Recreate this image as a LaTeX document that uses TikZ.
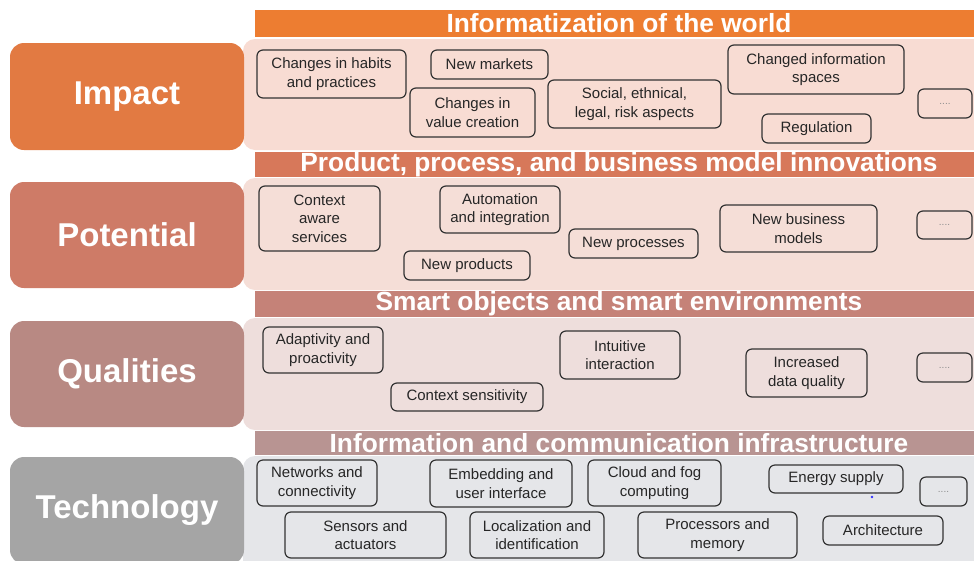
\documentclass[tikz,border=0pt]{standalone}
\usepackage{fontspec}
\setmainfont{Liberation Sans}
\definecolor{cImp}{RGB}{226,122,66}
\definecolor{cImpBar}{RGB}{237,125,49}
\definecolor{cImpBg}{RGB}{248,220,211}
\definecolor{cPot}{RGB}{206,123,103}
\definecolor{cPotBar}{RGB}{215,120,90}
\definecolor{cPotBg}{RGB}{245,222,215}
\definecolor{cQua}{RGB}{184,137,131}
\definecolor{cQuaBar}{RGB}{197,130,120}
\definecolor{cQuaBg}{RGB}{238,222,220}
\definecolor{cTec}{RGB}{165,165,165}
\definecolor{cTecBar}{RGB}{184,148,146}
\definecolor{cTecBg}{RGB}{229,230,233}
\tikzstyle{lab}=[rounded corners=14, text=white, font=\fontsize{33}{36}\selectfont\bfseries, inner sep=0]
\tikzstyle{bar}=[minimum width=728, minimum height=27, text=white, font=\fontsize{26.3}{28}\selectfont\bfseries, inner sep=0]
\tikzstyle{bx}=[draw=black!80, line width=1.2, rounded corners=6, align=center, inner sep=0, text=black!85, font=\fontsize{15}{18.5}\selectfont]
\tikzstyle{more}=[bx, font=\fontsize{10}{10}\selectfont, text=black!45, text depth=-3]

\begin{document}
\begin{tikzpicture}[x=1pt, y=-1pt]
  \useasboundingbox (0,0) rectangle (974,560);
  \clip (0,0) rectangle (974,560);
  \fill[cImpBg, rounded corners=12] (243,39) rectangle (995,150);
  \fill[cPotBg, rounded corners=12] (243,178) rectangle (995,290);
  \fill[cQuaBg, rounded corners=12] (243,318) rectangle (995,430);
  \fill[cTecBg, rounded corners=12] (243,456) rectangle (995,580);

  \node[lab, fill=cImp, minimum width=234, minimum height=107] (impact) at (127,96.5) {Impact};
  \node[lab, fill=cPot, minimum width=234, minimum height=106] (potential) at (127,235) {Potential};
  \node[lab, fill=cQua, minimum width=234, minimum height=106] (qualities) at (127,374) {Qualities};
  \node[lab, fill=cTec, minimum width=234, minimum height=107] (technology) at (127,510.5) {Technology};

  \node[bar, fill=cImpBar] (world) at (619,23) {Informatization of the world};
  \node[bar, fill=cPotBar, minimum height=25] (innov) at (619,164.5) {Product, process, and business model innovations};
  \node[bar, fill=cQuaBar, minimum height=26] (smart) at (619,304) {Smart objects and smart environments};
  \node[bar, fill=cTecBar, minimum height=24] (infra) at (619,443) {Information and communication infrastructure};

  % impact
  \node[bx, minimum width=149, minimum height=48] (habits) at (331.5,74) {Changes in habits\\and practices};
  \node[bx, minimum width=117, minimum height=29] (markets) at (489.5,64.5) {New markets};
  \node[bx, minimum width=125, minimum height=49] (value) at (472.5,112.5) {Changes in\\value creation};
  \node[bx, minimum width=173, minimum height=48] (social) at (634.5,104) {Social, ethnical,\\legal, risk aspects};
  \node[bx, minimum width=176, minimum height=49] (spaces) at (816,69.5) {Changed information\\spaces};
  \node[bx, minimum width=109, minimum height=29] (regul) at (816.5,128.5) {Regulation};
  \node[more, minimum width=54, minimum height=29] (more1) at (945,103.5) {....};

  % potential
  \node[bx, minimum width=121, minimum height=65] (context) at (319.5,218.5) {Context\\aware\\services};
  \node[bx, minimum width=120, minimum height=47] (autom) at (500,209.5) {Automation\\and integration};
  \node[bx, minimum width=126, minimum height=29] (products) at (467,265.5) {New products};
  \node[bx, minimum width=129, minimum height=29] (processes) at (633.5,243.5) {New processes};
  \node[bx, minimum width=157, minimum height=47] (business) at (798.5,228.5) {New business\\models};
  \node[more, minimum width=55, minimum height=28] (more2) at (944.5,225) {....};

  % qualities
  \node[bx, minimum width=120, minimum height=46] (adapt) at (323,350) {Adaptivity and\\proactivity};
  \node[bx, minimum width=152, minimum height=28] (sensit) at (467,397) {Context sensitivity};
  \node[bx, minimum width=120, minimum height=48] (intuit) at (620,355) {Intuitive\\interaction};
  \node[bx, minimum width=121, minimum height=48] (quality) at (806.5,373) {Increased\\data quality};
  \node[more, minimum width=55, minimum height=29] (more3) at (944.5,367.5) {....};

  % technology
  \node[bx, minimum width=120, minimum height=46] (networks) at (317,483) {Networks and\\connectivity};
  \node[bx, minimum width=142, minimum height=47] (embed) at (501,483.5) {Embedding and\\user interface};
  \node[bx, minimum width=133, minimum height=46] (cloud) at (654.5,483) {Cloud and fog\\computing};
  \node[bx, minimum width=134, minimum height=28] (energy) at (836,479) {Energy supply};
  \node[more, minimum width=47, minimum height=29] (more4) at (943.5,491.5) {....};
  \node[bx, minimum width=161, minimum height=46] (sensors) at (365.5,535) {Sensors and\\actuators};
  \node[bx, minimum width=134, minimum height=46] (local) at (537,535) {Localization and\\identification};
  \node[bx, minimum width=159, minimum height=46] (procs) at (717.5,535) {Processors and\\memory};
  \node[bx, minimum width=120, minimum height=29] (archi) at (883,530.5) {Architecture};
  \fill[blue!80] (872,497) circle (1.3);
\end{tikzpicture}
\end{document}
